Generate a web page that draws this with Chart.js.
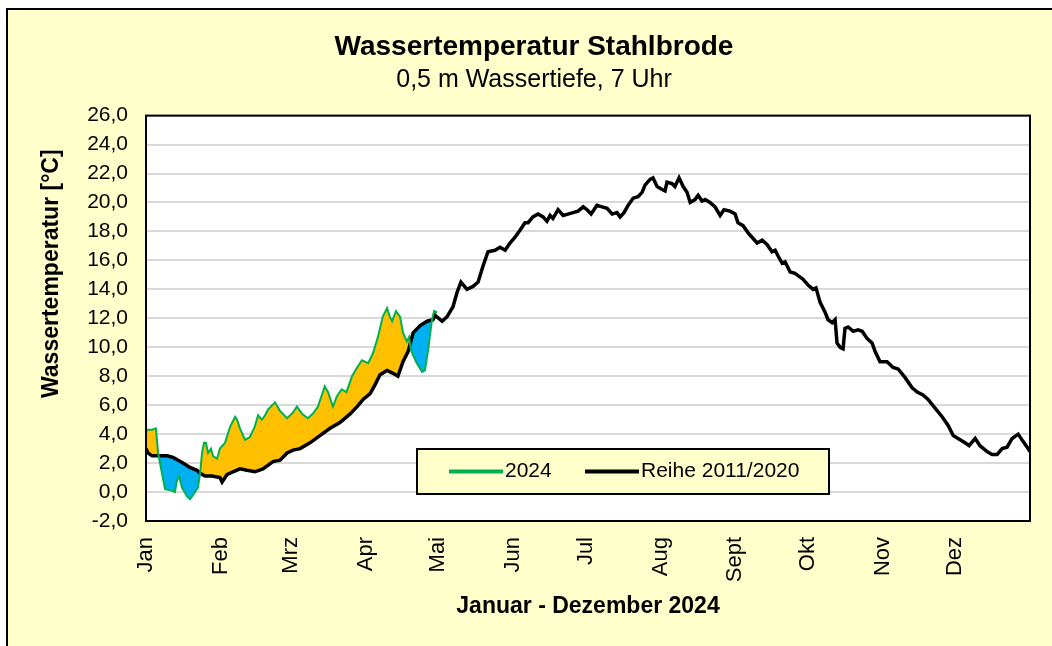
<!DOCTYPE html>
<html>
<head>
<meta charset="utf-8">
<script src="https://cdn.jsdelivr.net/npm/chart.js@4.4.1/dist/chart.umd.min.js"></script>
<style>
    html, body { margin: 0; padding: 0; background: #fff; }
    canvas { display: block; }
</style>
</head>
<body>
<canvas id="tempChart" width="1052" height="646"></canvas>
<script>
// Month ticks (day of year 2024)
const monthLabels = ['Jan', 'Feb', 'Mrz', 'Apr', 'Mai', 'Jun', 'Jul', 'Aug', 'Sept', 'Okt', 'Nov', 'Dez'];
const monthStarts = [0, 31, 60, 91, 121, 152, 182, 213, 244, 274, 305, 335];

// 2024 measurements (day of year, °C)
const days2024 = [0, 0.8, 2.5, 4.1, 5, 6.6, 7.9, 10.8, 12, 12.8,
    13.7, 14.9, 17, 18.2, 19.5, 21.5, 22.4, 23.2, 24, 24.8,
    25.7, 26.9, 27.7, 29.4, 30.6, 32.7, 34.8, 36.9, 37.7, 38.9,
    41, 43, 45, 46.4, 48, 49.3, 50.5, 53.4, 55.5, 58.4,
    60.9, 62.5, 64.6, 67, 69, 71.2, 74, 75.4, 77.4, 79,
    81, 83, 85.3, 87.4, 89.4, 92, 94, 96, 98, 99.8,
    101, 101.9, 103.5, 105.2, 106.4, 108, 108.9, 109.7, 111.8, 114.3,
    115.5, 116.8, 118.4, 119.3, 120.5];
const temp2024 = [4.2, 4.3, 4.3, 4.4, 2.7, 1.3, 0.2, 0.1, 0.0, 0.8,
    1.1, 0.3, -0.3, -0.5, -0.2, 0.3, 1.3, 2.7, 3.4, 3.4,
    2.7, 3.0, 2.5, 2.3, 3.0, 3.4, 4.5, 5.2, 5.0, 4.4,
    3.6, 3.8, 4.5, 5.3, 5.0, 5.3, 5.7, 6.2, 5.6, 5.1,
    5.5, 5.9, 5.4, 5.1, 5.4, 5.9, 7.3, 6.9, 5.9, 6.6,
    7.1, 6.9, 8.0, 8.6, 9.1, 8.9, 9.6, 10.7, 12.1, 12.7,
    12.1, 11.8, 12.5, 12.1, 11.0, 10.4, 10.7, 9.8, 9.0, 8.3,
    8.4, 9.8, 11.9, 12.5, 12.4];

// Reference series 2011/2020 (day of year, °C)
const daysReihe = [0, 0.8, 2.5, 3.7, 5.8, 8.7, 11.2, 13.3, 15.3, 18.2,
    21.1, 22.4, 24.4, 27.3, 30.6, 31.5, 33.5, 36, 38.9, 41.8,
    45.1, 48.4, 52.6, 55.5, 58.4, 60.9, 63.8, 67.9, 72, 76.2,
    80.3, 84.5, 87.4, 89.9, 92.8, 94.8, 96.9, 99.8, 102.3, 104.3,
    106.4, 108.5, 110.6, 113.5, 116.4, 118.8, 119.7, 122.6, 124.6, 127.1,
    128.8, 130.4, 132.9, 135.4, 137.5, 139.5, 141.6, 144.5, 146.6, 148.7,
    150.7, 152.8, 154.9, 156.9, 158.2, 160.2, 162.3, 164.4, 166, 167.3,
    168.5, 170.6, 172.7, 174.7, 176.8, 178.9, 181, 182.6, 184.3, 186.7,
    188.8, 190.9, 193, 195, 196.3, 197.9, 199.6, 201.7, 203.7, 205.4,
    206.6, 208.7, 209.9, 211.6, 213.7, 214.9, 215.7, 217.8, 219, 220.7,
    222.4, 224, 225.3, 227.3, 228.6, 230.2, 231.5, 233.5, 235.6, 237.7,
    239.3, 241.8, 243.9, 245.1, 247.2, 249.3, 250.9, 253, 255.1, 257.1,
    259.2, 260.5, 261.7, 263.4, 264.6, 266.7, 268.7, 270.4, 272, 274.1,
    276.2, 277.4, 279.1, 281.2, 282.4, 284.1, 285.3, 286.1, 287.4, 288.6,
    289.4, 290.7, 292.8, 294.8, 296.5, 298.6, 300.6, 301.9, 303.9, 306.8,
    309.3, 311.4, 314.3, 317.2, 319.3, 321.7, 323.8, 326.7, 329.6, 332.1,
    334.2, 336.2, 339.1, 340.8, 343.3, 345.3, 348.2, 350.3, 352.4, 354.5,
    356.5, 358.6, 361.1, 363.1, 365.2, 366];
const tempReihe = [3.0, 2.7, 2.5, 2.5, 2.5, 2.5, 2.4, 2.2, 2.0, 1.7,
    1.5, 1.3, 1.1, 1.1, 1.0, 0.7, 1.2, 1.4, 1.6, 1.5,
    1.4, 1.6, 2.1, 2.2, 2.7, 2.9, 3.0, 3.4, 3.9, 4.4,
    4.8, 5.4, 5.9, 6.4, 6.8, 7.4, 8.1, 8.4, 8.2, 8.0,
    9.0, 9.7, 11.0, 11.5, 11.8, 11.9, 12.2, 11.8, 12.1, 12.8,
    13.8, 14.5, 14.0, 14.2, 14.5, 15.6, 16.6, 16.7, 16.9, 16.7,
    17.2, 17.6, 18.1, 18.6, 18.6, 19.0, 19.2, 19.0, 18.7, 19.1,
    18.9, 19.5, 19.1, 19.2, 19.3, 19.4, 19.7, 19.5, 19.2, 19.8,
    19.7, 19.6, 19.2, 19.3, 19.0, 19.3, 19.8, 20.3, 20.4, 20.7,
    21.2, 21.6, 21.7, 21.1, 20.9, 20.8, 21.4, 21.3, 21.1, 21.7,
    21.1, 20.7, 20.0, 20.2, 20.5, 20.1, 20.2, 20.0, 19.7, 19.1,
    19.5, 19.4, 19.2, 18.6, 18.4, 17.9, 17.6, 17.2, 17.4, 17.1,
    16.6, 16.7, 16.3, 15.8, 15.9, 15.2, 15.1, 14.9, 14.7, 14.3,
    14.0, 14.1, 13.1, 12.4, 11.9, 11.7, 11.9, 10.3, 10.0, 9.9,
    11.3, 11.4, 11.1, 11.2, 11.1, 10.6, 10.3, 9.7, 9.0, 9.0,
    8.6, 8.5, 7.9, 7.2, 6.9, 6.7, 6.4, 5.8, 5.2, 4.6,
    3.9, 3.7, 3.4, 3.2, 3.7, 3.2, 2.8, 2.6, 2.6, 3.0,
    3.1, 3.7, 4.0, 3.5, 3.0, 2.8];

const FONT = '"Liberation Sans", Arial, sans-serif';
Chart.defaults.font.family = FONT;
Chart.defaults.color = '#000';

const toPoints = (xs, ys) => xs.map((x, i) => ({ x: x, y: ys[i] }));

// Yellow page, white plot area, black frame
const frame = {
    id: 'frame',
    beforeDraw(chart) {
        const { ctx, chartArea: a } = chart;
        ctx.save();
        ctx.fillStyle = '#fff';
        ctx.fillRect(0, 0, chart.width, chart.height);
        ctx.fillStyle = '#FFFFCC';
        ctx.fillRect(7, 9, chart.width - 7, chart.height - 9);
        ctx.strokeStyle = '#000';
        ctx.lineWidth = 2;
        ctx.beginPath();
        ctx.moveTo(7, chart.height);
        ctx.lineTo(7, 9);
        ctx.lineTo(chart.width, 9);
        ctx.stroke();
        ctx.fillStyle = '#fff';
        ctx.fillRect(a.left, a.top, a.right - a.left, a.bottom - a.top);
        ctx.restore();
    },
    afterDatasetsDraw(chart) {
        const { ctx, chartArea: a } = chart;
        ctx.save();
        ctx.strokeStyle = '#000';
        ctx.lineWidth = 2;
        ctx.strokeRect(a.left, a.top, a.right - a.left, a.bottom - a.top);
        ctx.restore();
    },
    afterDraw(chart) {
        // y axis title, sits a bit above the middle of the axis
        const { ctx, chartArea: a } = chart;
        ctx.save();
        ctx.translate(52, a.top + (a.bottom - a.top) * 0.39);
        ctx.rotate(-Math.PI / 2);
        ctx.font = 'bold 23px ' + FONT;
        ctx.fillStyle = '#000';
        ctx.textAlign = 'center';
        ctx.textBaseline = 'middle';
        ctx.fillText('Wassertemperatur [°C]', 0, 0);
        ctx.restore();
    }
};

// Boxed legend inside the plot area
const boxLegend = {
    id: 'boxLegend',
    afterDatasetsDraw(chart) {
        const { ctx, chartArea: a } = chart;
        const left = a.left + 271, top = a.bottom - 72, w = 412, h = 45;
        ctx.save();
        ctx.fillStyle = '#FFFFCC';
        ctx.fillRect(left, top, w, h);
        ctx.strokeStyle = '#000';
        ctx.lineWidth = 2;
        ctx.strokeRect(left, top, w, h);
        ctx.font = '21px ' + FONT;
        ctx.textBaseline = 'middle';
        const cy = top + h / 2;
        const starts = [left + 32, left + 168];
        chart.data.datasets.forEach((ds, i) => {
            const x = starts[i];
            ctx.strokeStyle = ds.borderColor;
            ctx.lineWidth = 4;
            ctx.beginPath();
            ctx.moveTo(x, cy);
            ctx.lineTo(x + 54, cy);
            ctx.stroke();
            ctx.fillStyle = '#000';
            ctx.fillText(ds.label, x + 56, cy);
        });
        ctx.restore();
    }
};

new Chart(document.getElementById('tempChart'), {
    type: 'line',
    data: {
        datasets: [{
            label: '2024',
            data: toPoints(days2024, temp2024),
            borderColor: '#00B050',
            borderWidth: 2,
            pointRadius: 0,
            tension: 0,
            fill: { target: 1, above: '#FFC000', below: '#00B0F0' }
        }, {
            label: 'Reihe 2011/2020',
            data: toPoints(daysReihe, tempReihe),
            borderColor: '#000',
            borderWidth: 3.5,
            pointRadius: 0,
            tension: 0,
            fill: false
        }]
    },
    options: {
        responsive: false,
        animation: false,
        layout: { padding: { left: 38, right: 22, top: 10, bottom: 0 } },
        plugins: {
            legend: { display: false },
            tooltip: { enabled: false },
            filler: { drawTime: 'beforeDatasetsDraw' },
            title: {
                display: true,
                text: 'Wassertemperatur Stahlbrode',
                color: '#000',
                font: { size: 28, weight: 'bold' },
                padding: { top: 20, bottom: 2 }
            },
            subtitle: {
                display: true,
                text: '0,5 m Wassertiefe, 7 Uhr',
                color: '#000',
                font: { size: 25 },
                padding: { top: 0, bottom: 20 }
            }
        },
        scales: {
            x: {
                type: 'linear',
                min: 0,
                max: 366,
                afterBuildTicks: scale => {
                    scale.ticks = monthStarts.map(v => ({ value: v }));
                },
                afterFit: scale => { scale.height = 125; },
                grid: { display: false, drawTicks: false },
                border: { display: false },
                ticks: {
                    autoSkip: false,
                    minRotation: 90,
                    maxRotation: 90,
                    padding: 16,
                    font: { size: 22 },
                    callback: (value, index) => monthLabels[index]
                },
                title: {
                    display: true,
                    text: 'Januar - Dezember 2024',
                    font: { size: 23, weight: 'bold' },
                    padding: { top: 0, bottom: 26 }
                }
            },
            y: {
                min: -2,
                max: 26,
                afterFit: scale => { scale.width = 108; },
                grid: { color: '#D9D9D9', lineWidth: 2, drawTicks: false },
                border: { display: false },
                ticks: {
                    stepSize: 2,
                    padding: 18,
                    font: { size: 21 },
                    callback: value => value.toFixed(1).replace('.', ',')
                }
            }
        }
    },
    plugins: [frame, boxLegend]
});
</script>
</body>
</html>
